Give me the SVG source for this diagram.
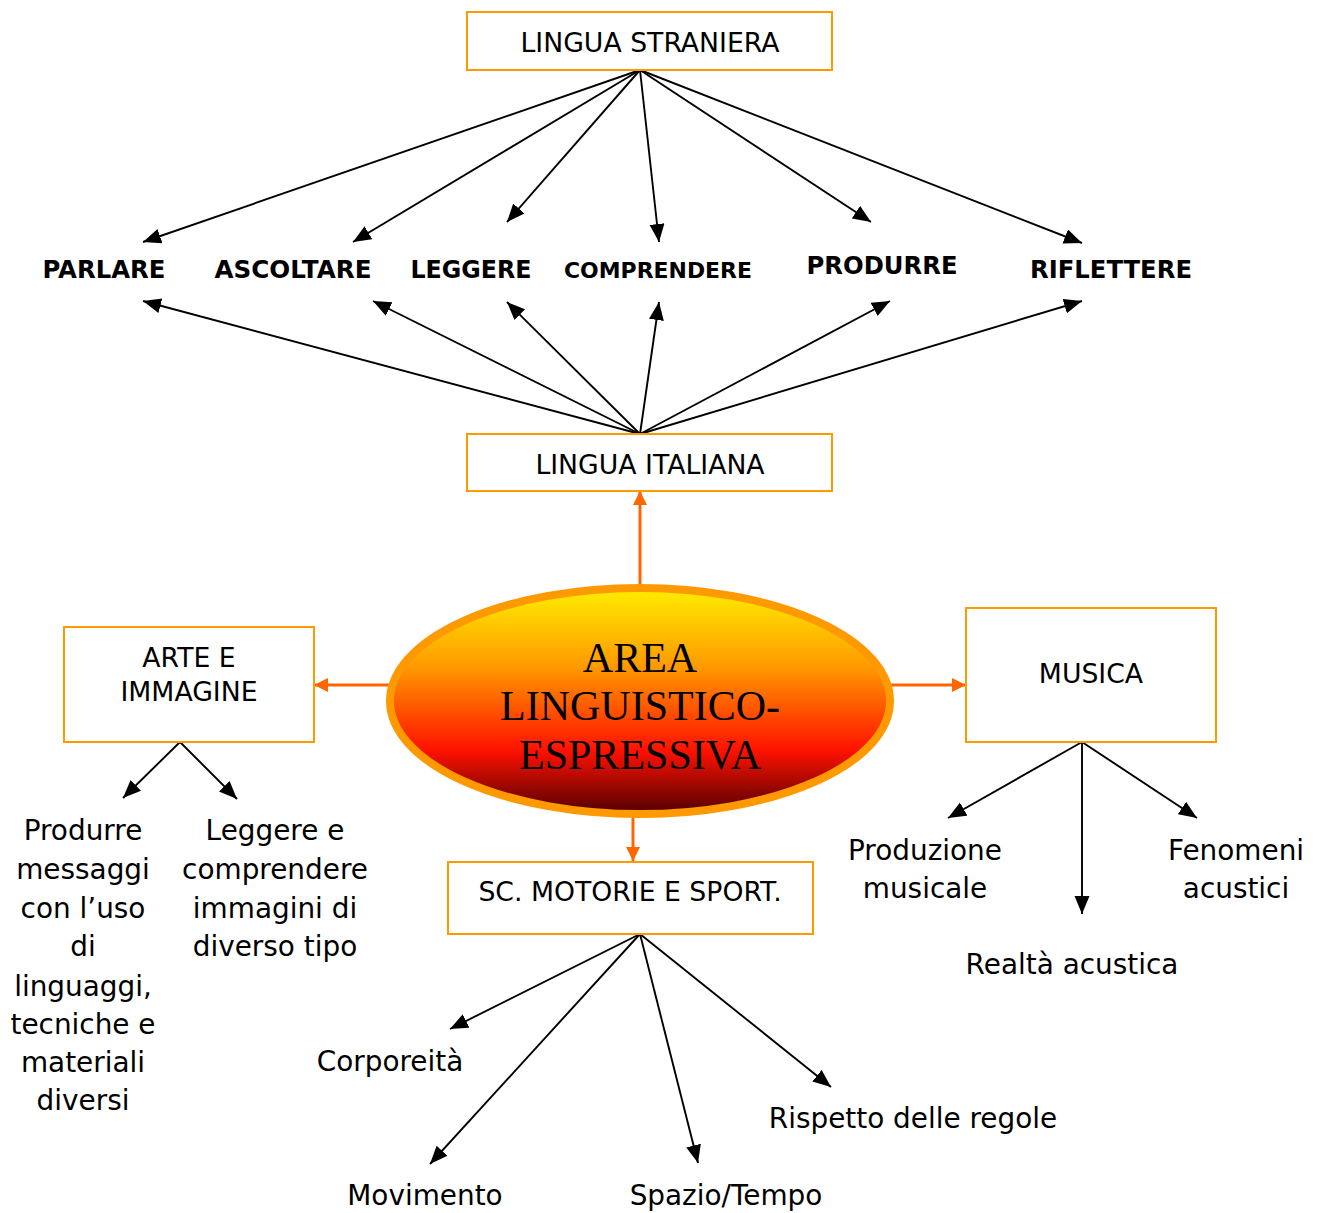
<svg xmlns="http://www.w3.org/2000/svg" width="1321" height="1213" viewBox="0 0 1321 1213">
<style>
.box{fill:#fff;stroke:#FF9900;stroke-width:2}
.t{font-family:"DejaVu Sans","Liberation Sans",sans-serif;fill:#000;text-anchor:middle}
.title{font-size:26.7px}
.lab{font-size:24px;font-weight:bold}
.body{font-size:27.9px}
.big{font-family:"Liberation Serif","DejaVu Serif",serif;font-size:42px;fill:#000;text-anchor:middle}
.blk{stroke:#000;stroke-width:1.9;fill:none;marker-end:url(#ah)}
.org{stroke:#FF6600;stroke-width:3;fill:none;marker-end:url(#ao)}
</style>
<defs>
<marker id="ah" markerUnits="userSpaceOnUse" markerWidth="20" markerHeight="16" refX="18" refY="7.5" orient="auto" viewBox="0 0 20 16">
<path d="M0,0 L18,7.5 L0,15 z" fill="#000"/>
</marker>
<marker id="ao" markerUnits="userSpaceOnUse" markerWidth="16" markerHeight="16" refX="14" refY="7" orient="auto" viewBox="0 0 16 16">
<path d="M0,0 L14,7 L0,14 z" fill="#FF6600"/>
</marker>
<linearGradient id="eg" x1="0" y1="0" x2="0" y2="1">
<stop offset="0" stop-color="#FFEE00"/>
<stop offset="0.35" stop-color="#FF9900"/>
<stop offset="0.72" stop-color="#FF1100"/>
<stop offset="1" stop-color="#500000"/>
</linearGradient>
</defs>

<g id="connectors">
<line class="blk" x1="640" y1="70" x2="143" y2="242"/>
<line class="blk" x1="640" y1="70" x2="353" y2="242"/>
<line class="blk" x1="640" y1="70" x2="507" y2="222"/>
<line class="blk" x1="640" y1="70" x2="659" y2="242"/>
<line class="blk" x1="640" y1="70" x2="871" y2="222"/>
<line class="blk" x1="640" y1="70" x2="1082" y2="243"/>
<line class="blk" x1="640" y1="434" x2="143" y2="301"/>
<line class="blk" x1="640" y1="434" x2="373" y2="301"/>
<line class="blk" x1="640" y1="434" x2="507" y2="302"/>
<line class="blk" x1="640" y1="434" x2="659" y2="302"/>
<line class="blk" x1="640" y1="434" x2="890" y2="301"/>
<line class="blk" x1="640" y1="434" x2="1082" y2="301"/>
<line class="blk" x1="180" y1="742" x2="123" y2="798"/>
<line class="blk" x1="180" y1="742" x2="237" y2="799"/>
<line class="blk" x1="1082" y1="742" x2="948" y2="818"/>
<line class="blk" x1="1082" y1="742" x2="1082" y2="914"/>
<line class="blk" x1="1082" y1="742" x2="1197" y2="818"/>
<line class="blk" x1="640" y1="934" x2="450" y2="1029"/>
<line class="blk" x1="640" y1="934" x2="430" y2="1164"/>
<line class="blk" x1="640" y1="934" x2="698" y2="1163"/>
<line class="blk" x1="640" y1="934" x2="831" y2="1087"/>
<line class="org" x1="640" y1="588" x2="640" y2="491"/>
<line class="org" x1="390" y1="685" x2="314" y2="685"/>
<line class="org" x1="890" y1="685" x2="966" y2="685"/>
<line class="org" x1="633" y1="812" x2="633" y2="861"/>
</g>

<g id="center">
<ellipse cx="640" cy="701" rx="250" ry="113" fill="url(#eg)" stroke="#FF9900" stroke-width="8"/>
<text class="big" x="640" y="672">AREA</text>
<text class="big" x="640" y="720">LINGUISTICO-</text>
<text class="big" x="640" y="769">ESPRESSIVA</text>
</g>

<g id="lingua-straniera">
<rect class="box" x="467" y="12" width="365" height="58"/>
<text class="t title" x="650" y="52">LINGUA STRANIERA</text>
</g>
<g id="lingua-italiana">
<rect class="box" x="467" y="434" width="365" height="57"/>
<text class="t title" x="650" y="474">LINGUA ITALIANA</text>
</g>
<g id="arte">
<rect class="box" x="64" y="627" width="250" height="115"/>
<text class="t title" x="189" y="667">ARTE E</text>
<text class="t title" x="189" y="701">IMMAGINE</text>
</g>
<g id="musica">
<rect class="box" x="966" y="608" width="250" height="134"/>
<text class="t title" x="1091" y="683">MUSICA</text>
</g>
<g id="motorie">
<rect class="box" x="448" y="862" width="365" height="72"/>
<text class="t title" x="630" y="901">SC. MOTORIE E SPORT.</text>
</g>

<g id="parlare"><text class="t lab" x="104" y="278" textLength="123" lengthAdjust="spacingAndGlyphs">PARLARE</text></g>
<g id="ascoltare"><text class="t lab" x="293" y="278" textLength="157" lengthAdjust="spacingAndGlyphs">ASCOLTARE</text></g>
<g id="leggere"><text class="t lab" x="471" y="278" textLength="121" lengthAdjust="spacingAndGlyphs">LEGGERE</text></g>
<g id="comprendere"><text class="t lab" x="658" y="278" style="font-size:22px" textLength="188" lengthAdjust="spacingAndGlyphs">COMPRENDERE</text></g>
<g id="produrre"><text class="t lab" x="882" y="274" textLength="151" lengthAdjust="spacingAndGlyphs">PRODURRE</text></g>
<g id="riflettere"><text class="t lab" x="1111" y="278" textLength="162" lengthAdjust="spacingAndGlyphs">RIFLETTERE</text></g>

<g id="arte-produrre">
<text class="t body" x="83" y="840">Produrre</text>
<text class="t body" x="83" y="879">messaggi</text>
<text class="t body" x="83" y="918">con l’uso</text>
<text class="t body" x="83" y="956">di</text>
<text class="t body" x="83" y="996">linguaggi,</text>
<text class="t body" x="83" y="1034">tecniche e</text>
<text class="t body" x="83" y="1072">materiali</text>
<text class="t body" x="83" y="1110">diversi</text>
</g>
<g id="arte-leggere">
<text class="t body" x="275" y="840">Leggere e</text>
<text class="t body" x="275" y="879">comprendere</text>
<text class="t body" x="275" y="918">immagini di</text>
<text class="t body" x="275" y="956">diverso tipo</text>
</g>
<g id="produzione">
<text class="t body" x="925" y="860">Produzione</text>
<text class="t body" x="925" y="898">musicale</text>
</g>
<g id="fenomeni">
<text class="t body" x="1236" y="860">Fenomeni</text>
<text class="t body" x="1236" y="898">acustici</text>
</g>
<g id="realta"><text class="t body" x="1072" y="974">Realtà acustica</text></g>
<g id="corporeita"><text class="t body" x="390" y="1071">Corporeità</text></g>
<g id="rispetto"><text class="t body" x="913" y="1128">Rispetto delle regole</text></g>
<g id="movimento"><text class="t body" x="425" y="1205">Movimento</text></g>
<g id="spazio"><text class="t body" x="726" y="1205">Spazio/Tempo</text></g>
</svg>
